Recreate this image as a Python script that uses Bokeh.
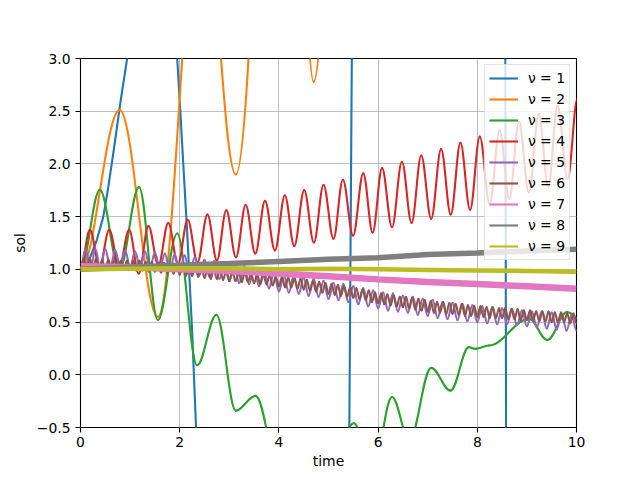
import numpy as np
from bokeh.plotting import figure
from bokeh.models import Range1d, Legend, LegendItem, CustomJSTickFormatter
from bokeh.embed import file_html
from bokeh.resources import INLINE

# ---------------- data ----------------
time_ticks = [0, 2, 4, 6, 8, 10]
sol_ticks = [-0.5, 0.0, 0.5, 1.0, 1.5, 2.0, 2.5, 3.0]
labels = ["ν = 1", "ν = 2", "ν = 3", "ν = 4", "ν = 5", "ν = 6", "ν = 7", "ν = 8", "ν = 9"]
colors = ["#1f77b4", "#ff7f0e", "#2ca02c", "#d62728", "#9467bd",
          "#8c564b", "#e377c2", "#7f7f7f", "#bcbd22"]

# nu = 1 (points along the curve; parts outside the window are rough)
blue_t = [0.0, 0.1, 0.2, 0.33, 0.46, 0.55, 0.67, 0.81, 0.94, 1.1, 1.3, 1.5, 1.7, 1.85,
          1.95, 2.0, 2.16, 2.25, 2.33, 2.45, 3.0, 4.0, 5.0, 5.38, 5.42, 5.47, 5.52,
          6.5, 8.0, 8.55, 8.565, 8.58, 8.6, 10.0]
blue_y = [1.0, 1.03, 1.12, 1.28, 1.50, 1.75, 2.13, 2.60, 3.0, 3.6, 4.3, 4.7, 4.4, 3.8,
          3.0, 2.6, 1.27, 0.42, -0.5, -1.8, -6.0, -9.0, -6.0, -1.5, -0.5, 3.0, 6.5,
          20.0, 20.0, 6.0, 3.0, -0.5, -4.0, -30.0]

# nu = 2 .. 4 : successive extrema (time, value)
orange_t = [0.0, 0.79, 1.56, 2.44, 3.13, 4.1, 4.70, 5.6, 6.8, 8.2, 9.5, 10.5]
orange_y = [1.0, 2.51, 0.55, 4.7, 1.90, 8.6, 2.78, 12.0, 7.0, 14.0, 9.0, 15.0]

green_t = [0.0, 0.39, 0.785, 1.18, 1.56, 1.95, 2.35, 2.74, 3.13, 3.53, 4.0, 4.5, 5.1,
           5.51, 5.9, 6.28, 6.63, 7.07, 7.46, 7.83, 7.96, 8.23, 9.05, 9.41, 9.81, 10.25]
green_y = [1.0, 1.755, 1.0, 1.78, 0.52, 1.34, 0.09, 0.57, -0.34, -0.20, -0.9, -0.6, -0.8,
           -0.46, -0.9, -0.21, -0.62, 0.066, -0.15, 0.262, 0.246, 0.278, 0.53, 0.33, 0.594, 0.45]

red_t = [0.0, 0.19, 0.385, 0.58, 0.78, 0.98, 1.175, 1.37, 1.57, 1.77, 1.965, 2.16, 2.36,
         2.56, 2.75, 2.94, 3.135, 3.33, 3.525, 3.72, 3.92, 4.12, 4.31, 4.51, 4.705, 4.90,
         5.10, 5.29, 5.495, 5.70, 5.89, 6.08, 6.28, 6.48, 6.675, 6.87, 7.07, 7.27, 7.465,
         7.66, 7.855, 8.05, 8.25, 8.45, 8.645, 8.84, 9.04, 9.24, 9.43, 9.62, 9.82, 10.02]
red_y = [1.0, 1.375, 1.03, 1.375, 1.02, 1.375, 0.96, 1.41, 1.04, 1.44, 1.05, 1.47, 1.07,
         1.52, 1.085, 1.56, 1.115, 1.61, 1.15, 1.65, 1.18, 1.70, 1.22, 1.75, 1.255, 1.80,
         1.29, 1.85, 1.32, 1.91, 1.35, 1.96, 1.40, 2.02, 1.44, 2.08, 1.48, 2.14, 1.52,
         2.20, 1.565, 2.26, 1.62, 2.32, 1.67, 2.40, 1.73, 2.47, 1.79, 2.55, 1.86, 2.62]

# nu = 5 : extrema every 0.1
purple_t = [0.0, 0.1, 0.2, 0.3, 0.4, 0.5, 0.6, 0.7, 0.8, 0.9,
            1.0, 1.1, 1.2, 1.3, 1.4, 1.5, 1.6, 1.7, 1.8, 1.9,
            2.0, 2.1, 2.2, 2.3, 2.4, 2.5, 2.6, 2.7, 2.8, 2.9,
            3.0, 3.1, 3.2, 3.3, 3.4, 3.5, 3.6, 3.7, 3.8, 3.9,
            4.0, 4.1, 4.2, 4.3, 4.4, 4.5, 4.6, 4.7, 4.8, 4.9,
            5.0, 5.1, 5.2, 5.3, 5.4, 5.5, 5.6, 5.7, 5.8, 5.9,
            6.0, 6.1, 6.2, 6.3, 6.4, 6.5, 6.6, 6.7, 6.8, 6.9,
            7.0, 7.1, 7.2, 7.3, 7.4, 7.5, 7.6, 7.7, 7.8, 7.9,
            8.0, 8.1, 8.2, 8.3, 8.4, 8.5, 8.6, 8.7, 8.8, 8.9,
            9.0, 9.1, 9.2, 9.3, 9.4, 9.5, 9.6, 9.7, 9.8, 9.9, 10.0]
purple_y = [1.00, 1.19, 1.01, 1.19, 1.01, 1.19, 1.02, 1.18, 1.02, 1.18,
            1.02, 1.17, 1.02, 1.17, 1.01, 1.16, 1.00, 1.15, 0.99, 1.14,
            0.98, 1.13, 0.96, 1.11, 0.95, 1.09, 0.93, 1.08, 0.91, 1.06,
            0.89, 1.04, 0.87, 1.03, 0.86, 1.01, 0.84, 0.99, 0.82, 0.97,
            0.79, 0.95, 0.78, 0.94, 0.77, 0.92, 0.75, 0.91, 0.74, 0.89,
            0.72, 0.87, 0.71, 0.86, 0.69, 0.84, 0.67, 0.82, 0.65, 0.80,
            0.63, 0.78, 0.61, 0.77, 0.60, 0.75, 0.59, 0.74, 0.57, 0.72,
            0.56, 0.71, 0.54, 0.69, 0.53, 0.68, 0.52, 0.67, 0.51, 0.66,
            0.50, 0.65, 0.49, 0.64, 0.48, 0.63, 0.48, 0.62, 0.47, 0.61,
            0.46, 0.60, 0.45, 0.60, 0.44, 0.59, 0.43, 0.58, 0.42, 0.57, 0.42]

# nu = 6 : extrema every 0.0625
brown_t = [0.0, 0.062, 0.125, 0.188, 0.25, 0.312, 0.375, 0.438, 0.5, 0.562, 0.625, 0.688, 0.75, 0.812, 0.875, 0.938,
           1.0, 1.062, 1.125, 1.188, 1.25, 1.312, 1.375, 1.438, 1.5, 1.562, 1.625, 1.688, 1.75, 1.812, 1.875, 1.938,
           2.0, 2.062, 2.125, 2.188, 2.25, 2.312, 2.375, 2.438, 2.5, 2.562, 2.625, 2.688, 2.75, 2.812, 2.875, 2.938,
           3.0, 3.062, 3.125, 3.188, 3.25, 3.312, 3.375, 3.438, 3.5, 3.562, 3.625, 3.688, 3.75, 3.812, 3.875, 3.938,
           4.0, 4.062, 4.125, 4.188, 4.25, 4.312, 4.375, 4.438, 4.5, 4.562, 4.625, 4.688, 4.75, 4.812, 4.875, 4.938,
           5.0, 5.062, 5.125, 5.188, 5.25, 5.312, 5.375, 5.438, 5.5, 5.562, 5.625, 5.688, 5.75, 5.812, 5.875, 5.938,
           6.0, 6.062, 6.125, 6.188, 6.25, 6.312, 6.375, 6.438, 6.5, 6.562, 6.625, 6.688, 6.75, 6.812, 6.875, 6.938,
           7.0, 7.062, 7.125, 7.188, 7.25, 7.312, 7.375, 7.438, 7.5, 7.562, 7.625, 7.688, 7.75, 7.812, 7.875, 7.938,
           8.0, 8.062, 8.125, 8.188, 8.25, 8.312, 8.375, 8.438, 8.5, 8.562, 8.625, 8.688, 8.75, 8.812, 8.875, 8.938,
           9.0, 9.062, 9.125, 9.188, 9.25, 9.312, 9.375, 9.438, 9.5, 9.562, 9.625, 9.688, 9.75, 9.812, 9.875, 9.938,
           10.0]
brown_y = [1.00, 1.10, 1.00, 1.10, 1.00, 1.10, 1.00, 1.09, 1.00, 1.09, 1.00, 1.09, 1.00, 1.08, 1.00, 1.08,
           1.00, 1.08, 0.99, 1.08, 0.99, 1.07, 0.98, 1.07, 0.98, 1.06, 0.97, 1.06, 0.96, 1.05, 0.96, 1.05,
           0.95, 1.04, 0.94, 1.03, 0.94, 1.03, 0.93, 1.02, 0.92, 1.01, 0.91, 1.00, 0.91, 1.00, 0.90, 0.99,
           0.89, 0.98, 0.89, 0.97, 0.88, 0.97, 0.88, 0.96, 0.87, 0.95, 0.86, 0.95, 0.86, 0.94, 0.85, 0.93,
           0.84, 0.93, 0.83, 0.92, 0.83, 0.91, 0.82, 0.91, 0.81, 0.90, 0.80, 0.89, 0.79, 0.88, 0.78, 0.87,
           0.77, 0.86, 0.76, 0.85, 0.75, 0.84, 0.74, 0.83, 0.73, 0.82, 0.72, 0.81, 0.71, 0.80, 0.69, 0.78,
           0.68, 0.77, 0.67, 0.76, 0.66, 0.75, 0.65, 0.74, 0.64, 0.74, 0.63, 0.73, 0.62, 0.72, 0.61, 0.71,
           0.60, 0.70, 0.59, 0.69, 0.59, 0.69, 0.58, 0.68, 0.58, 0.67, 0.57, 0.67, 0.56, 0.66, 0.56, 0.65,
           0.55, 0.65, 0.55, 0.64, 0.54, 0.64, 0.54, 0.63, 0.54, 0.63, 0.53, 0.62, 0.53, 0.62, 0.52, 0.61,
           0.52, 0.61, 0.52, 0.60, 0.51, 0.60, 0.51, 0.60, 0.50, 0.59, 0.50, 0.59, 0.50, 0.58, 0.49, 0.58,
           0.49]

# nu = 7 .. 9 : fast small oscillations, seen as thick bands (band centre)
band_t = [0, 1, 2, 3, 4, 5, 6, 7, 8, 9, 10]
pink_y = [1.03, 1.02, 1.00, 0.985, 0.96, 0.935, 0.905, 0.88, 0.86, 0.84, 0.815]
gray_y = [1.00, 1.02, 1.04, 1.055, 1.075, 1.095, 1.11, 1.14, 1.155, 1.175, 1.19]
olive_y = [1.00, 1.005, 1.01, 1.01, 1.0, 1.005, 1.0, 0.995, 0.99, 0.985, 0.977]

# ---------------- figure ----------------
FONT = "DejaVu Sans"
FS = "13.9px"

p = figure(output_backend="svg", toolbar_location=None,
           frame_width=496, frame_height=369,
           min_border_left=80, min_border_right=48, min_border_top=58, min_border_bottom=38,
           x_range=Range1d(0, 10), y_range=Range1d(-0.5, 3.0),
           background_fill_color="white", border_fill_color="white")

p.outline_line_color = "black"
p.outline_line_width = 1.1

for ax in (p.xaxis[0], p.yaxis[0]):
    ax.axis_line_color = None
    ax.major_tick_out = 5
    ax.major_tick_in = 0
    ax.major_tick_line_color = "black"
    ax.major_tick_line_width = 1.1
    ax.minor_tick_line_color = None
    ax.major_label_text_font = FONT
    ax.major_label_text_font_size = FS
    ax.major_label_text_color = "black"
    ax.major_label_standoff = 5
    ax.axis_label_text_font = FONT
    ax.axis_label_text_font_size = FS
    ax.axis_label_text_font_style = "normal"
    ax.axis_label_text_color = "black"

p.xaxis.axis_label_standoff = 3
p.yaxis.axis_label_standoff = 6
p.xaxis.major_label_standoff = 4

p.xaxis.ticker = time_ticks
p.yaxis.ticker = sol_ticks
p.yaxis.formatter = CustomJSTickFormatter(code="return tick.toFixed(1).replace('-', '\u2212');")
p.xaxis.axis_label = "time"
p.yaxis.axis_label = "sol"

p.grid.grid_line_color = "#b0b0b0"
p.grid.grid_line_width = 0.8

LW = 2.1
K = 0.3642


def smooth(t, y, color, width=LW):
    t = np.asarray(t, dtype=float)
    y = np.asarray(y, dtype=float)
    x0, x1 = t[:-1], t[1:]
    y0, y1 = y[:-1], y[1:]
    h = x1 - x0
    p.bezier(x0=x0, y0=y0, x1=x1, y1=y1,
             cx0=x0 + K * h, cy0=y0, cx1=x1 - K * h, cy1=y1,
             line_color=color, line_width=width, line_cap="round")


p.line(blue_t, blue_y, line_color=colors[0], line_width=LW)
smooth(orange_t, orange_y, colors[1])
smooth(green_t, green_y, colors[2])
smooth(red_t, red_y, colors[3])
smooth(purple_t, purple_y, colors[4])
smooth(brown_t, brown_y, colors[5])
p.line(band_t, pink_y, line_color=colors[6], line_width=6.5)
p.line(band_t, gray_y, line_color=colors[7], line_width=5.5)
p.line(band_t, olive_y, line_color=colors[8], line_width=4.5)

# legend entries: plain line samples (renderer drawn outside the visible window)
items = []
for lab, col in zip(labels, colors):
    r = p.line(x=[-50, -40], y=[-50, -50], line_color=col, line_width=LW)
    items.append(LegendItem(label=lab, renderers=[r]))

legend = Legend(items=items, location="top_right",
                label_text_font=FONT, label_text_font_size=FS, label_text_color="black",
                border_line_color="#cccccc", border_line_width=1,
                background_fill_color="white", background_fill_alpha=0.8,
                padding=4, spacing=3, glyph_width=29, glyph_height=18,
                label_height=18, label_standoff=10, margin=6)
p.add_layout(legend)

open("out.html", "w").write(file_html(p, INLINE))
